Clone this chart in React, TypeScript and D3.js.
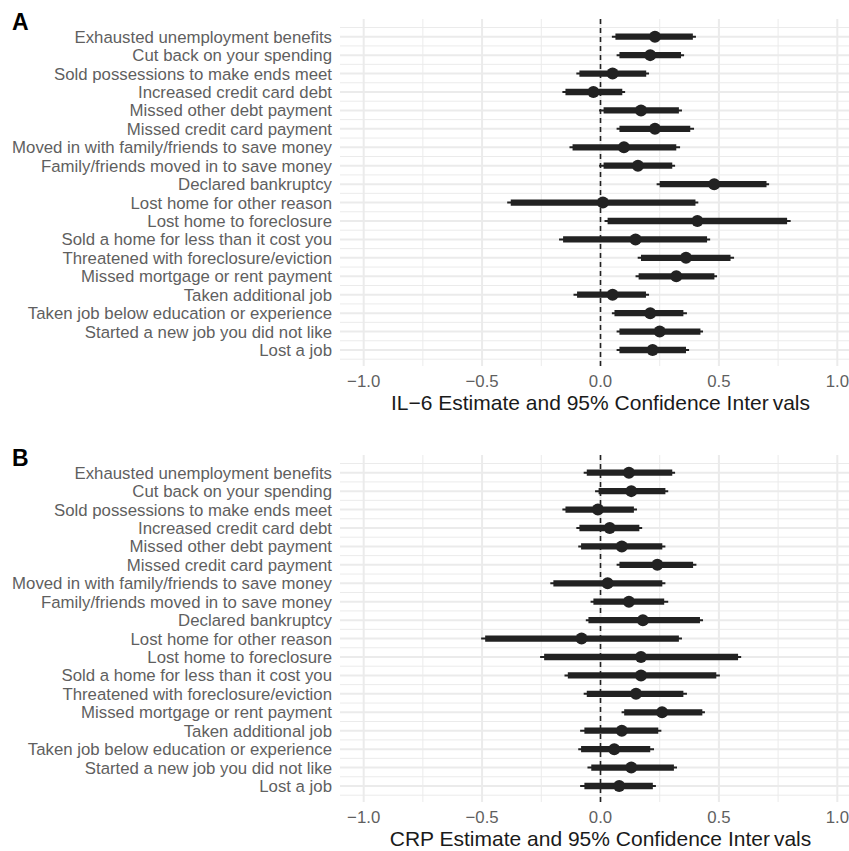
import React from "react";
import * as d3 from "d3";

const categories = [
  "Exhausted unemployment benefits",
  "Cut back on your spending",
  "Sold possessions to make ends meet",
  "Increased credit card debt",
  "Missed other debt payment",
  "Missed credit card payment",
  "Moved in with family/friends to save money",
  "Family/friends moved in to save money",
  "Declared bankruptcy",
  "Lost home for other reason",
  "Lost home to foreclosure",
  "Sold a home for less than it cost you",
  "Threatened with foreclosure/eviction",
  "Missed mortgage or rent payment",
  "Taken additional job",
  "Taken job below education or experience",
  "Started a new job you did not like",
  "Lost a job",
];

const il6Est = [0.23, 0.21, 0.051, -0.03, 0.171, 0.23, 0.099, 0.158, 0.48, 0.01, 0.409, 0.148, 0.361, 0.32, 0.051, 0.21, 0.25, 0.22];
const il6Lo95 = [0.048, 0.068, -0.102, -0.161, -0.006, 0.068, -0.131, -0.006, 0.237, -0.394, 0.017, -0.175, 0.157, 0.148, -0.114, 0.048, 0.068, 0.068];
const il6Hi95 = [0.403, 0.353, 0.205, 0.104, 0.344, 0.395, 0.336, 0.315, 0.712, 0.413, 0.803, 0.463, 0.564, 0.492, 0.205, 0.365, 0.433, 0.374];
const il6Lo90 = [0.063, 0.08, -0.089, -0.148, 0.013, 0.08, -0.118, 0.013, 0.25, -0.379, 0.03, -0.158, 0.171, 0.161, -0.099, 0.059, 0.08, 0.08];
const il6Hi90 = [0.39, 0.34, 0.193, 0.092, 0.331, 0.379, 0.32, 0.303, 0.701, 0.401, 0.788, 0.45, 0.549, 0.481, 0.192, 0.35, 0.422, 0.361];

const crpEst = [0.12, 0.13, -0.011, 0.039, 0.09, 0.24, 0.03, 0.12, 0.179, -0.08, 0.171, 0.171, 0.15, 0.26, 0.09, 0.058, 0.13, 0.079];
const crpLo95 = [-0.071, -0.023, -0.161, -0.102, -0.094, 0.068, -0.212, -0.042, -0.062, -0.504, -0.255, -0.152, -0.071, 0.089, -0.086, -0.094, -0.055, -0.086];
const crpHi95 = [0.315, 0.286, 0.154, 0.176, 0.274, 0.405, 0.274, 0.286, 0.433, 0.344, 0.594, 0.504, 0.365, 0.441, 0.257, 0.226, 0.323, 0.234];
const crpLo90 = [-0.058, -0.008, -0.148, -0.089, -0.082, 0.08, -0.199, -0.03, -0.051, -0.487, -0.238, -0.138, -0.058, 0.1, -0.068, -0.082, -0.039, -0.068];
const crpHi90 = [0.303, 0.274, 0.141, 0.164, 0.261, 0.391, 0.261, 0.269, 0.42, 0.331, 0.581, 0.489, 0.35, 0.43, 0.244, 0.21, 0.31, 0.221];

const xTicks = [-1.0, -0.5, 0.0, 0.5, 1.0];
const xMinor = [-0.75, -0.25, 0.25, 0.75];

const panels = [
  { tag: "A", title: "IL\u22126 Estimate and 95% Confidence", est: il6Est, lo95: il6Lo95, hi95: il6Hi95, lo90: il6Lo90, hi90: il6Hi90 },
  { tag: "B", title: "CRP Estimate and 95% Confidence", est: crpEst, lo95: crpLo95, hi95: crpHi95, lo90: crpLo90, hi90: crpHi90 },
];

const FONT = "'Liberation Sans', Arial, Helvetica, sans-serif";
const GRID = "#EBEBEB";
const INK = "#222222";
const AXIS_TEXT = "#5f5f5f";

function Panel({ p, offsetY }: { p: any; offsetY: number }) {
  const left = 340;
  const right = 861;
  const top = 19 + offsetY;
  const bottom = 366 + offsetY;
  const x = d3.scaleLinear().domain([-1.1, 1.1]).range([left, right]);
  const y = d3.scaleLinear().domain([0, categories.length - 1]).range([36.7 + offsetY, 350 + offsetY]);
  const minorY = d3.range(-0.5, categories.length, 1);
  const fmt = d3.format(".1f");
  return (
    <g>
      {minorY.map((v) => (
        <line key={"my" + v} x1={left} x2={right} y1={y(v)} y2={y(v)} stroke={GRID} strokeWidth={1} />
      ))}
      {xMinor.map((v) => (
        <line key={"mx" + v} x1={x(v)} x2={x(v)} y1={top} y2={bottom} stroke={GRID} strokeWidth={1} />
      ))}
      {categories.map((c, i) => (
        <line key={"gy" + i} x1={left} x2={right} y1={y(i)} y2={y(i)} stroke={GRID} strokeWidth={2} />
      ))}
      {xTicks.map((v) => (
        <line key={"gx" + v} x1={x(v)} x2={x(v)} y1={top} y2={bottom} stroke={GRID} strokeWidth={2} />
      ))}
      <line x1={x(0)} x2={x(0)} y1={top} y2={bottom} stroke={INK} strokeWidth={1.6} strokeDasharray="5,4" />
      {categories.map((c, i) => (
        <g key={"m" + i}>
          <line x1={x(p.lo95[i])} x2={x(p.hi95[i])} y1={y(i)} y2={y(i)} stroke={INK} strokeWidth={2} />
          <line x1={x(p.lo90[i])} x2={x(p.hi90[i])} y1={y(i)} y2={y(i)} stroke={INK} strokeWidth={6.3} />
          <circle cx={x(p.est[i])} cy={y(i)} r={6} fill={INK} />
        </g>
      ))}
      {categories.map((c, i) => (
        <text key={"yl" + i} x={332} y={y(i)} dy="0.36em" textAnchor="end" fontSize={16.8} fill={AXIS_TEXT} fontFamily={FONT}>
          {c}
        </text>
      ))}
      {xTicks.map((v) => (
        <text key={"xl" + v} x={x(v)} y={386.7 + offsetY} textAnchor="middle" fontSize={16.8} fill={AXIS_TEXT} fontFamily={FONT}>
          {v < 0 ? "\u2212" + fmt(-v) : fmt(v)}
        </text>
      ))}
      <text x={x(0)} y={410 + offsetY} textAnchor="middle" fontSize={21} fill="#1a1a1a" fontFamily={FONT}>
        {p.title}
        <tspan> Inter</tspan>
        <tspan dx={4}>vals</tspan>
      </text>
      <text x={12} y={30 + offsetY} fontSize={23} fontWeight="bold" fill="#000" fontFamily={FONT}>
        {p.tag}
      </text>
    </g>
  );
}

export default function App() {
  return (
    <svg width={849} height={851} style={{ position: "absolute", left: 0, top: 0, background: "#fff" }}>
      <rect x={0} y={0} width={849} height={851} fill="#fff" />
      <Panel p={panels[0]} offsetY={0} />
      <Panel p={panels[1]} offsetY={436} />
    </svg>
  );
}
